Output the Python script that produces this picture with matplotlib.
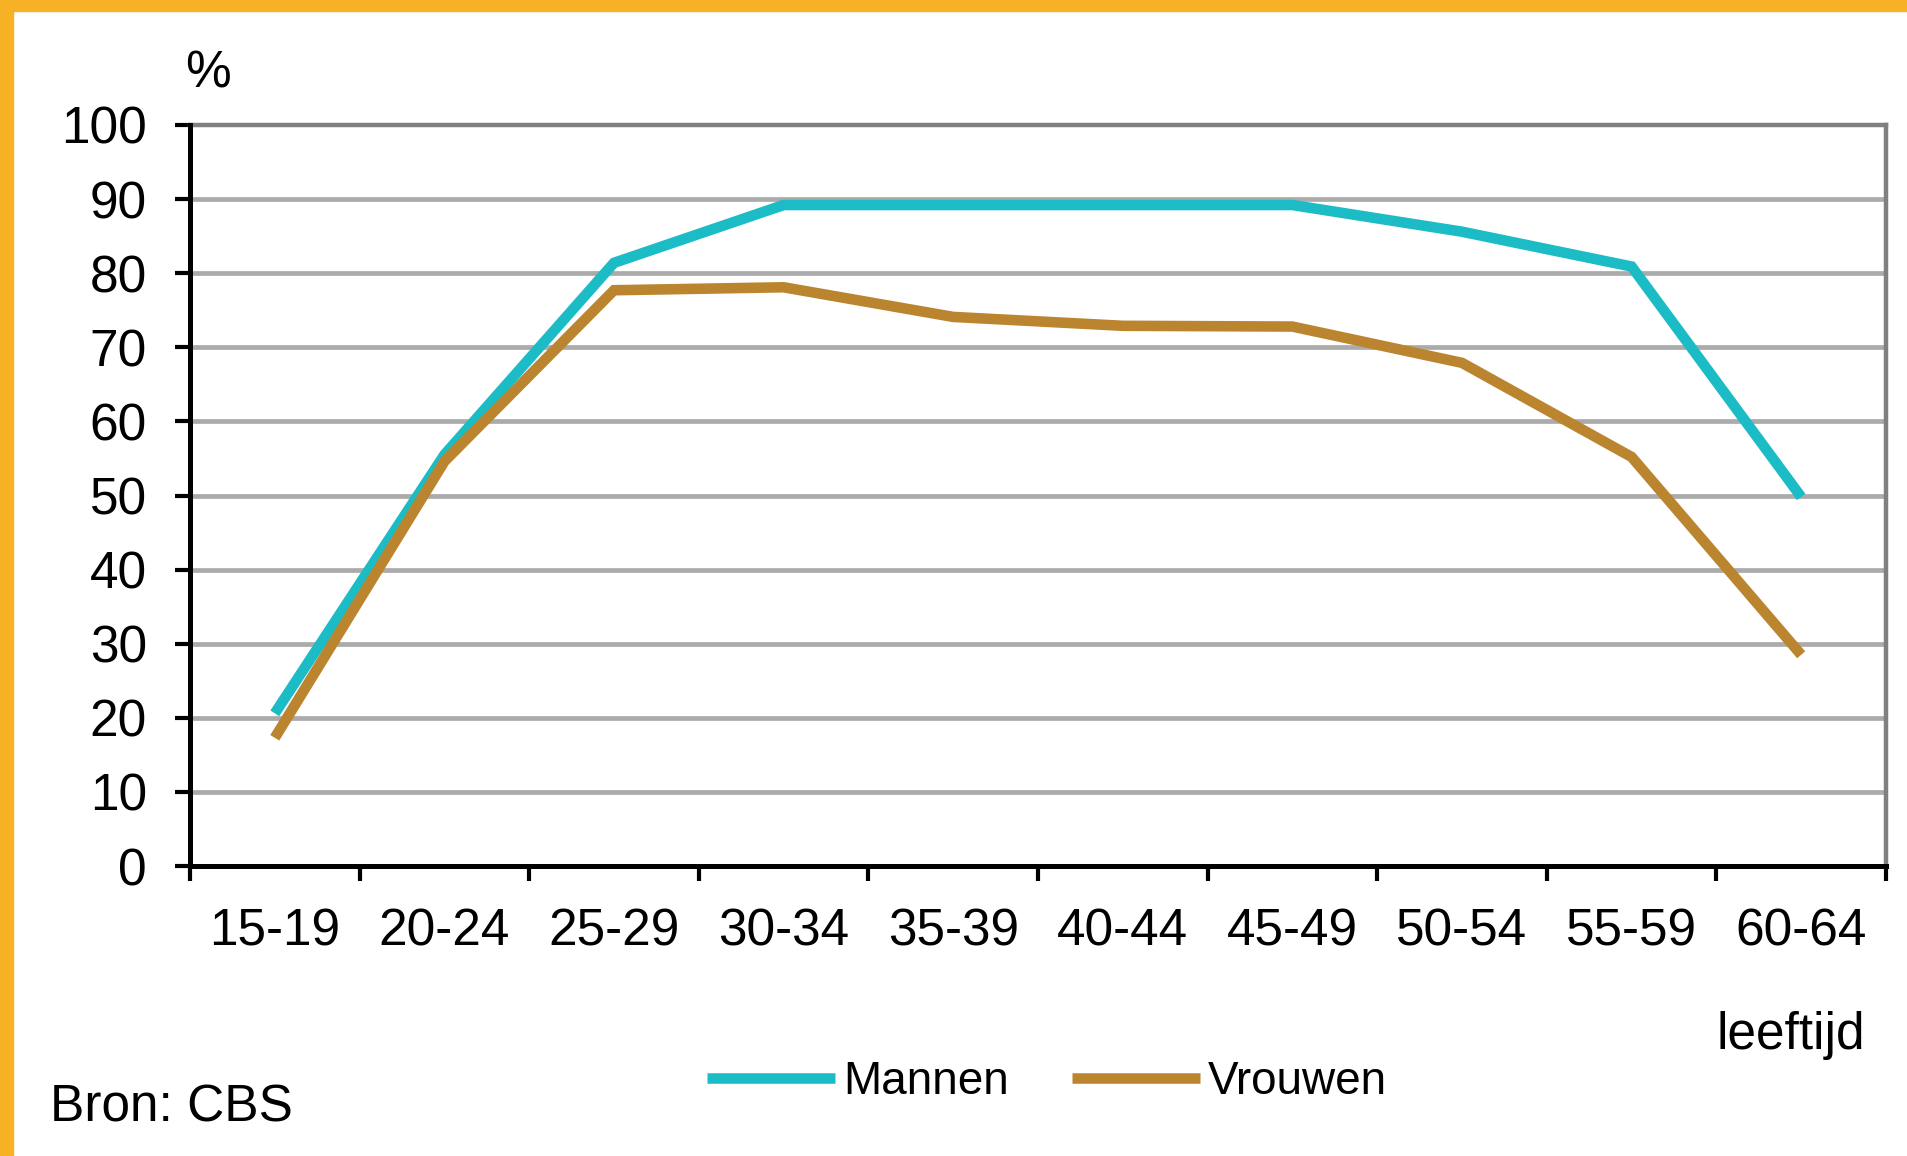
"""Arbeidsparticipatie naar leeftijd, mannen en vrouwen (bron: CBS)."""

import matplotlib
matplotlib.use("Agg")
import matplotlib.pyplot as plt
from matplotlib.patches import Rectangle
import numpy as np

age_groups = ["15-19", "20-24", "25-29", "30-34", "35-39",
              "40-44", "45-49", "50-54", "55-59", "60-64"]
mannen = [20.6, 55.5, 81.4, 89.2, 89.2, 89.2, 89.2, 85.6, 80.9, 49.8]
vrouwen = [17.3, 54.6, 77.7, 78.1, 74.1, 72.9, 72.8, 67.9, 55.2, 28.5]
y_ticks = [0, 10, 20, 30, 40, 50, 60, 70, 80, 90, 100]

CYAN = "#1CBCC6"
BROWN = "#BB8530"
ORANGE = "#F6B224"
GRID = "#ABABAB"
FRAME = "#808080"
FS = 37

plt.rcParams["font.family"] = ["Liberation Sans", "DejaVu Sans"]


def main() -> None:
    fig = plt.figure(figsize=(19.07, 11.56), dpi=100)
    fig.patch.set_facecolor("white")

    # orange page border (top and left)
    fig.patches.append(Rectangle((0, 1 - 11 / 1156), 1, 11 / 1156,
                                 transform=fig.transFigure, color=ORANGE, zorder=0))
    fig.patches.append(Rectangle((0, 0), 13 / 1907, 1,
                                 transform=fig.transFigure, color=ORANGE, zorder=0))

    ax = fig.add_axes([190 / 1907, 1 - 866 / 1156,
                       (1886 - 190) / 1907, (866 - 125) / 1156])

    x = np.arange(len(age_groups)) + 0.5
    ax.plot(x, mannen, color=CYAN, lw=7.6, label="Mannen", zorder=3,
            solid_joinstyle="miter", solid_capstyle="butt")
    ax.plot(x, vrouwen, color=BROWN, lw=7.6, label="Vrouwen", zorder=4,
            solid_joinstyle="miter", solid_capstyle="butt")

    ax.set_xlim(0, len(age_groups))
    ax.set_ylim(0, 100)

    ax.set_yticks(y_ticks)
    ax.set_yticklabels([str(v) for v in y_ticks])
    ax.set_xticks(np.arange(len(age_groups) + 1))
    ax.set_xticklabels([])
    ax.set_xticks(x, minor=True)
    ax.set_xticklabels(age_groups, minor=True)

    ax.tick_params(axis="both", which="major", direction="out", length=11,
                   width=3, color="black", labelsize=FS)
    ax.tick_params(axis="y", pad=20)
    ax.tick_params(axis="x", which="minor", length=0, labelsize=FS, pad=30)

    for yv in y_ticks[1:-1]:
        ax.axhline(yv, color=GRID, lw=3.4, zorder=1)

    ax.spines["left"].set_linewidth(3.6)
    ax.spines["bottom"].set_linewidth(3.6)
    ax.spines["left"].set_zorder(5)
    ax.spines["bottom"].set_zorder(5)
    for side in ("top", "right"):
        ax.spines[side].set_color(FRAME)
        ax.spines[side].set_linewidth(3.2)

    fig.text(208 / 1907, 1 - 74 / 1156, "%", fontsize=FS, ha="center", va="center")
    fig.text(1865 / 1907, 1 - 1049 / 1156, "leeftijd", fontsize=FS,
             ha="right", va="baseline")
    fig.text(50 / 1907, 1 - 1121 / 1156, "Bron: CBS", fontsize=FS,
             ha="left", va="baseline")

    fig.legend(loc="center left", bbox_to_anchor=(707 / 1907, 1 - 1082 / 1156),
               ncol=2, frameon=False, fontsize=33, handlelength=2.8,
               handletextpad=0.17, columnspacing=1.37, borderpad=0,
               borderaxespad=0)

    fig.savefig("out.png", dpi=100, facecolor="white")
    plt.close(fig)


if __name__ == "__main__":
    main()
